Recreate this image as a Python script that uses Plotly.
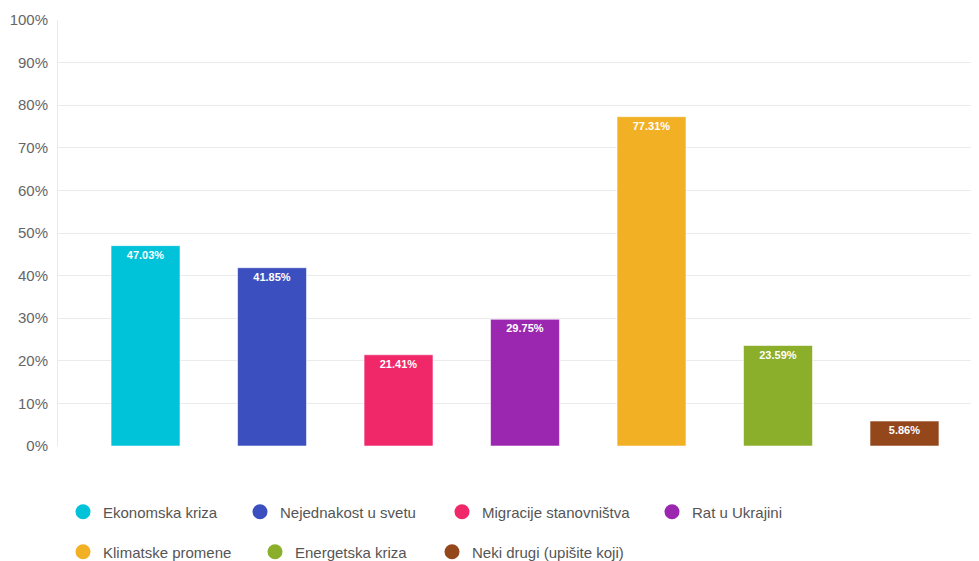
import plotly.graph_objects as go

categories = ["Ekonomska kriza", "Nejednakost u svetu", "Migracije stanovništva",
              "Rat u Ukrajini", "Klimatske promene", "Energetska kriza",
              "Neki drugi (upišite koji)"]
values = [47.03, 41.85, 21.41, 29.75, 77.31, 23.59, 5.86]
colors = ["#00C2D9", "#3B4FBE", "#F0286A", "#9B27B1", "#F2B125", "#8BAE2B", "#94471B"]
y_ticks = [0, 10, 20, 30, 40, 50, 60, 70, 80, 90, 100]

OFF = 8  # default page body margin
W, H = 979 - OFF, 561 - OFF
# legend marker centre positions (pixels in the window)
legend_pos = [(80, 512), (257, 512), (459, 512), (669, 512),
              (80, 552), (272, 552), (449, 552)]

fig = go.Figure()
fig.add_trace(go.Bar(
    x=categories, y=values, width=0.545,
    marker=dict(color=colors, line=dict(color="rgba(255,255,255,0.55)", width=1)),
    texttemplate="<b>%{y:.2f}%</b>",
    textposition="inside", insidetextanchor="end", textangle=0,
    constraintext="none",
    textfont=dict(color="white", size=11, family="Liberation Sans, Arial, sans-serif"),
    showlegend=False, hoverinfo="skip",
))

layout_legends = {}
for i, (name, col) in enumerate(zip(categories, colors)):
    lg = "legend" if i == 0 else f"legend{i+1}"
    fig.add_trace(go.Scatter(
        x=[None], y=[None], mode="markers", name=name,
        marker=dict(color=col, size=15, symbol="circle"),
        legend=lg, showlegend=True,
    ))
    px, py = legend_pos[i]
    layout_legends[lg] = dict(
        xref="container", yref="container",
        x=(px - OFF - 17) / W, y=1 - (py - OFF) / H,
        xanchor="left", yanchor="middle",
        orientation="h", bgcolor="rgba(0,0,0,0)",
        font=dict(size=15, color="#555555", family="Liberation Sans, Arial, sans-serif"),
        itemclick=False, itemdoubleclick=False,
    )

fig.update_layout(
    width=W, height=H,
    margin=dict(l=58 - OFF, r=0, t=20 - OFF, b=561 - 446),
    plot_bgcolor="white", paper_bgcolor="white",
    font=dict(family="Liberation Sans, Arial, sans-serif"),
    xaxis=dict(range=[-0.692, 6.589], showticklabels=False, showgrid=False,
               zeroline=False, showline=False, fixedrange=True),
    yaxis=dict(range=[0, 100], tickvals=y_ticks,
               ticktext=[f"{t}%" for t in y_ticks],
               gridcolor="#EBEBEB", gridwidth=1, zeroline=False,
               showline=True, linecolor="#EBEBEB", linewidth=1,
               tickfont=dict(size=15, color="#666666"),
               ticks="", ticklabelstandoff=6, fixedrange=True),
    **layout_legends,
)

fig.write_html("out.html")
